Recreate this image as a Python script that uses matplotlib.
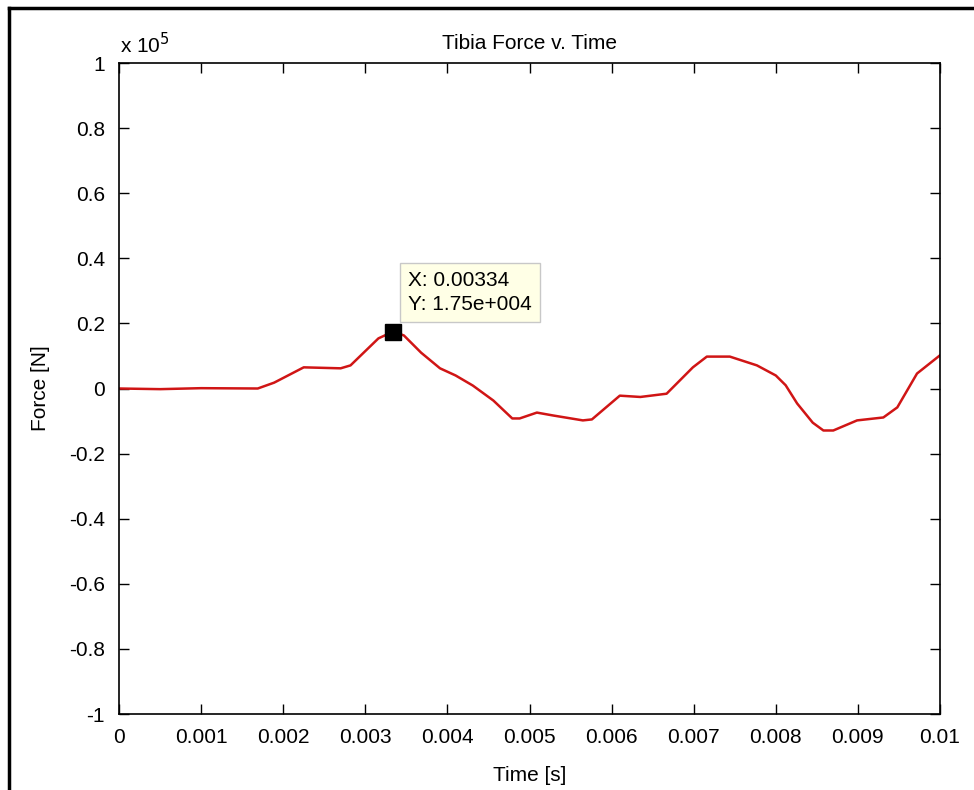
import matplotlib.pyplot as plt
from matplotlib.lines import Line2D

plt.rcParams['font.family'] = ['Liberation Sans', 'DejaVu Sans']

# Force trace (time in s, force in 1e5 N)
time_s = [0.0, 0.0005, 0.0010, 0.00169, 0.00189, 0.00225, 0.0027, 0.00282,
          0.00316, 0.00334, 0.00347, 0.00368, 0.00391, 0.00410, 0.00431,
          0.00456, 0.00479, 0.00488, 0.00509, 0.00529, 0.00565, 0.00576,
          0.00610, 0.00635, 0.00667, 0.00699, 0.00716, 0.00744, 0.00777,
          0.00800, 0.00812, 0.00826, 0.00845, 0.00858, 0.0087, 0.00899,
          0.00931, 0.00948, 0.00972, 0.00998, 0.0100]
force = [0.0, -0.002, 0.001, 0.0, 0.018, 0.065, 0.062, 0.071,
         0.154, 0.175, 0.163, 0.110, 0.062, 0.040, 0.009,
         -0.037, -0.092, -0.092, -0.074, -0.083, -0.098, -0.095,
         -0.022, -0.026, -0.016, 0.065, 0.098, 0.098, 0.071,
         0.040, 0.010, -0.046, -0.105, -0.129, -0.129, -0.098,
         -0.089, -0.058, 0.046, 0.098, 0.102]

tip_x = 0.00334
tip_y = 0.175

xticks = [0, 0.001, 0.002, 0.003, 0.004, 0.005, 0.006, 0.007, 0.008, 0.009, 0.01]
xtick_labels = ['0', '0.001', '0.002', '0.003', '0.004', '0.005', '0.006',
                '0.007', '0.008', '0.009', '0.01']
yticks = [-1, -0.8, -0.6, -0.4, -0.2, 0, 0.2, 0.4, 0.6, 0.8, 1]
ytick_labels = ['-1', '-0.8', '-0.6', '-0.4', '-0.2', '0', '0.2', '0.4',
                '0.6', '0.8', '1']

fig = plt.figure(figsize=(9.74, 7.90), dpi=100)
ax = fig.add_axes([119 / 974, 76 / 790, 821 / 974, 651 / 790])

ax.plot(time_s, force, color='#d01515', linewidth=1.8)
ax.plot(tip_x, tip_y, marker='s', color='black', markersize=11, linestyle='none')

ax.set_xlim(0, 0.01)
ax.set_ylim(-1, 1)
ax.set_xticks(xticks)
ax.set_xticklabels(xtick_labels)
ax.set_yticks(yticks)
ax.set_yticklabels(ytick_labels)
ax.tick_params(direction='in', length=7, width=1, labelsize=15,
               top=True, right=True, pad=10)
for s in ax.spines.values():
    s.set_linewidth(1.2)

ax.set_title('Tibia Force v. Time', fontsize=15, pad=10)
ax.set_xlabel('Time [s]', fontsize=15, labelpad=14)
ax.set_ylabel('Force [N]', fontsize=15, labelpad=14)

# exponent label, MATLAB style
fig.text(120 / 974, 1 - 53 / 790, r'x 10$^{5}$', fontsize=15, va='baseline')

# data tip
ax.annotate('X: 0.00334\nY: 1.75e+004', xy=(tip_x, tip_y),
            xytext=(408 / 974, 1 - 310 / 790), textcoords='figure fraction',
            fontsize=15, va='baseline', ha='left', linespacing=1.3,
            bbox=dict(boxstyle='square,pad=0.4', fc='#ffffe6', ec='#c8c8c8'))

# outer frame of the window
fig.add_artist(Line2D([9 / 974, 9 / 974], [0, 1 - 8 / 790], color='black', lw=2.5))
fig.add_artist(Line2D([9 / 974, 1], [1 - 8 / 790, 1 - 8 / 790], color='black', lw=2.5))

fig.savefig('out.png', dpi=100)
